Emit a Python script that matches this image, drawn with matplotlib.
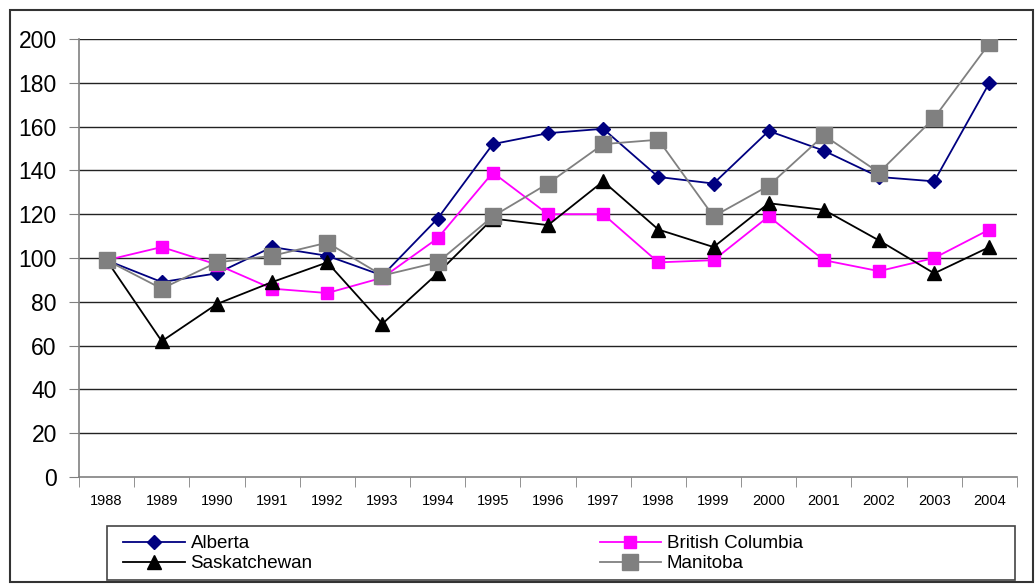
import numpy as np
import matplotlib.pyplot as plt
from matplotlib.patches import Rectangle

years = ['1988', '1989', '1990', '1991', '1992', '1993', '1994', '1995', '1996',
         '1997', '1998', '1999', '2000', '2001', '2002', '2003', '2004']

alberta = [99, 89, 93, 105, 101, 92, 118, 152, 157, 159, 137, 134, 158, 149, 137, 135, 180]
british_columbia = [99, 105, 97, 86, 84, 91, 109, 139, 120, 120, 98, 99, 119, 99, 94, 100, 113]
saskatchewan = [99, 62, 79, 89, 98, 70, 93, 118, 115, 135, 113, 105, 125, 122, 108, 93, 105]
manitoba = [99, 86, 98, 101, 107, 92, 98, 119, 134, 152, 154, 119, 133, 156, 139, 164, 198]

y_ticks = np.arange(0, 201, 20)

fig = plt.figure(figsize=(10.35, 5.84), dpi=100)
ax = fig.add_axes([79 / 1035, 1 - 477 / 584, (1017 - 79) / 1035, (477 - 39) / 584])

x = np.arange(len(years))
ax.plot(x, alberta, color='#000080', marker='D', markersize=7, lw=1.3, label='Alberta', zorder=3)
ax.plot(x, british_columbia, color='#FF00FF', marker='s', markersize=8, lw=1.3, label='British Columbia', zorder=4)
ax.plot(x, saskatchewan, color='black', marker='^', markersize=9.5, lw=1.3, label='Saskatchewan', zorder=5)
ax.plot(x, manitoba, color='#808080', marker='s', markersize=12, lw=1.3, label='Manitoba', zorder=6)

ax.set_xlim(-0.5, len(years) - 0.5)
ax.set_ylim(0, 200)
ax.set_yticks(y_ticks)
ax.set_yticklabels([str(v) for v in y_ticks], fontsize=16.5, family='Liberation Sans')
for v in y_ticks[1:]:
    ax.axhline(v, color='#222222', lw=1, zorder=1)

ax.set_xticks(x)
ax.set_xticklabels(years, fontsize=10.5, family=['Liberation Sans Narrow', 'Liberation Sans'])
ax.set_xticks(np.arange(-0.5, len(years)), minor=True)
ax.tick_params(axis='x', which='major', length=0, pad=12)
ax.tick_params(axis='x', which='minor', length=7, color='#808080')
ax.tick_params(axis='y', length=7, color='#808080', pad=9)

for side in ['top', 'right']:
    ax.spines[side].set_visible(False)
for side in ['left', 'bottom']:
    ax.spines[side].set_color('#808080')
    ax.spines[side].set_linewidth(1.2)

# legend box and outer border
fig.patches.append(Rectangle((107 / 1035, 1 - 580 / 584), (1015 - 107) / 1035, 54 / 584,
                             transform=fig.transFigure, fill=False, ec='#444444', lw=1.2))
fig.patches.append(Rectangle((10 / 1035, 2 / 584), (1033 - 10) / 1035, 572 / 584,
                             transform=fig.transFigure, fill=False, ec='#333333', lw=1.5))

h, l = ax.get_legend_handles_labels()
order = [0, 2, 1, 3]
fig.legend([h[i] for i in order], [l[i] for i in order], ncol=2, frameon=False,
           loc='upper left', bbox_to_anchor=(123 / 1035, 1 - 535 / 584),
           borderpad=0, borderaxespad=0, handlelength=3.3, handletextpad=0.3,
           labelspacing=0.15, columnspacing=15.3,
           prop={'family': ['Liberation Sans Narrow', 'Liberation Sans'], 'size': 13.5})

plt.savefig('out.png')
